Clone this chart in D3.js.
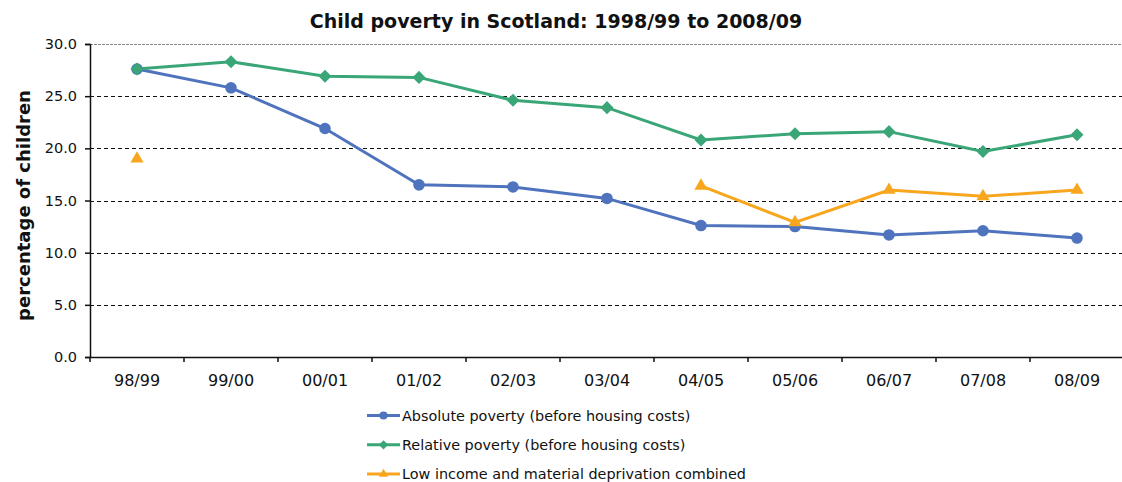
<!DOCTYPE html>
<html>
<head>
<meta charset="utf-8">
<script src="https://cdn.jsdelivr.net/npm/d3@7"></script>
<style>
  body { margin: 0; background: #fff; }
  text { font-family: "DejaVu Sans", Verdana, sans-serif; }
</style>
</head>
<body>
<div id="chart"></div>
<script>
// data
const years = ["98/99", "99/00", "00/01", "01/02", "02/03", "03/04", "04/05", "05/06", "06/07", "07/08", "08/09"];
const absolutePoverty = [27.6, 25.8, 21.9, 16.5, 16.3, 15.2, 12.6, 12.5, 11.7, 12.1, 11.4];
const relativePoverty = [27.6, 28.3, 26.9, 26.8, 24.6, 23.9, 20.8, 21.4, 21.6, 19.7, 21.3];
const lowIncomeDeprivation = [19.0, null, null, null, null, null, 16.4, 12.9, 16.0, 15.4, 16.0];
const yTicks = [0, 5, 10, 15, 20, 25, 30];

const series = [
  { name: "Absolute poverty (before housing costs)", values: absolutePoverty, color: "#4f73bd", symbol: d3.symbolCircle, size: 105, rot: 0 },
  { name: "Relative poverty (before housing costs)", values: relativePoverty, color: "#3aa677", symbol: d3.symbolSquare, size: 85, rot: 45 },
  { name: "Low income and material deprivation combined", values: lowIncomeDeprivation, color: "#f8a61e", symbol: d3.symbolTriangle, size: 75, rot: 0 }
];

const W = 1122, H = 482;
const margin = { top: 44, right: 0, bottom: 125, left: 90 };
const width = W - margin.left - margin.right;
const height = H - margin.top - margin.bottom;

const svg = d3.select("#chart")
  .append("svg")
  .attr("width", W)
  .attr("height", H);

const g = svg.append("g")
  .attr("transform", `translate(${margin.left}, ${margin.top})`);

// scales
const x = d3.scaleBand().domain(years).range([0, 1034]);
const y = d3.scaleLinear().domain([0, 30]).range([height, 0]);

// gridlines
g.selectAll(".grid")
  .data(yTicks.filter(t => t > 0))
  .enter()
  .append("line")
  .attr("x1", 0)
  .attr("x2", width)
  .attr("y1", d => Math.round(y(d)) + 0.5)
  .attr("y2", d => Math.round(y(d)) + 0.5)
  .attr("stroke", d => d === 30 ? "#888" : "#111")
  .attr("stroke-width", 1.2)
  .attr("stroke-dasharray", d => d === 30 ? "3,1" : "4,3");

// y axis
const yAxis = g.append("g")
  .call(d3.axisLeft(y).tickValues(yTicks).tickFormat(d3.format(".1f")).tickSize(5).tickPadding(8));
yAxis.select(".domain").attr("stroke", "#111").attr("stroke-width", 1.5);
yAxis.selectAll(".tick line").attr("stroke", "#111").attr("stroke-width", 1.5);
yAxis.selectAll("text").attr("font-size", "14.5px").attr("fill", "#111")
  .style("font-family", "'DejaVu Sans', Verdana, sans-serif");

// x axis
const xAxis = g.append("g")
  .attr("transform", `translate(0, ${height})`)
  .call(d3.axisBottom(x).tickSize(0).tickPadding(18));
xAxis.select(".domain").attr("stroke", "#111").attr("stroke-width", 1.5);
xAxis.selectAll("text").attr("font-size", "16px").attr("fill", "#111")
  .style("font-family", "'DejaVu Sans', Verdana, sans-serif");

// x tick marks at band boundaries
g.selectAll(".xtick")
  .data(years)
  .enter()
  .append("line")
  .attr("x1", d => x(d))
  .attr("x2", d => x(d))
  .attr("y1", height)
  .attr("y2", height + 5)
  .attr("stroke", "#111")
  .attr("stroke-width", 1.5);

// lines + markers
const cx = d => x(d) + x.bandwidth() / 2;
const line = d3.line()
  .defined(d => d.v !== null)
  .x(d => cx(d.year))
  .y(d => y(d.v));

series.forEach(s => {
  const pts = years.map((yr, i) => ({ year: yr, v: s.values[i] }));
  g.append("path")
    .datum(pts)
    .attr("fill", "none")
    .attr("stroke", s.color)
    .attr("stroke-width", 3)
    .attr("d", line);
});

series.forEach(s => {
  const pts = years.map((yr, i) => ({ year: yr, v: s.values[i] })).filter(d => d.v !== null);
  g.selectAll(null)
    .data(pts)
    .enter()
    .append("path")
    .attr("transform", d => `translate(${cx(d.year)}, ${y(d.v)}) rotate(${s.rot})`)
    .attr("d", d3.symbol().type(s.symbol).size(s.size))
    .attr("fill", s.color);
});

// title
svg.append("text")
  .attr("x", 556)
  .attr("y", 28)
  .attr("text-anchor", "middle")
  .attr("font-size", "19px")
  .attr("font-weight", "bold")
  .attr("fill", "#111")
  .text("Child poverty in Scotland: 1998/99 to 2008/09");

// y label
svg.append("text")
  .attr("transform", `translate(30, ${margin.top + height / 2 + 5}) rotate(-90)`)
  .attr("text-anchor", "middle")
  .attr("font-size", "18px")
  .attr("font-weight", "bold")
  .attr("fill", "#111")
  .text("percentage of children");

// legend
const legend = svg.append("g").attr("transform", "translate(367, 415.5)");
series.forEach((s, i) => {
  const row = legend.append("g").attr("transform", `translate(0, ${i * 29.3})`);
  row.append("line")
    .attr("x1", 0).attr("x2", 33).attr("y1", 0).attr("y2", 0)
    .attr("stroke", s.color).attr("stroke-width", 3);
  row.append("path")
    .attr("transform", `translate(16.5, 0) rotate(${s.rot})`)
    .attr("d", d3.symbol().type(s.symbol).size(s.size * 0.5))
    .attr("fill", s.color);
  row.append("text")
    .attr("x", 35)
    .attr("y", 0)
    .attr("dy", "0.35em")
    .attr("font-size", "14.4px")
    .attr("fill", "#111")
    .text(s.name);
});
</script>
</body>
</html>
